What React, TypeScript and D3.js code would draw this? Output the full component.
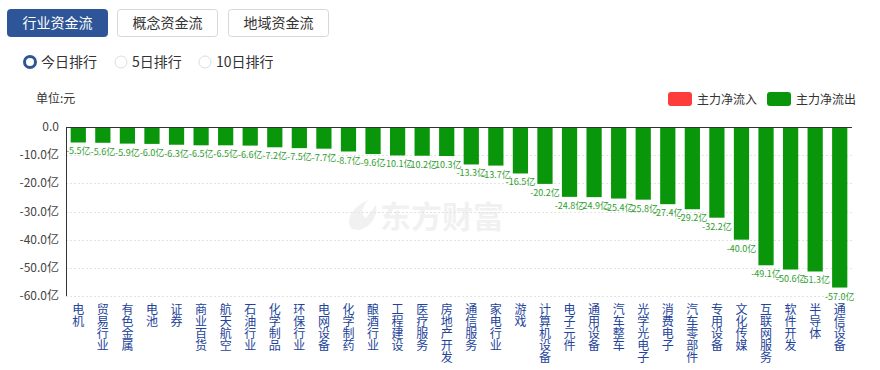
import React from "react";
import * as d3 from "d3";

const categories = ["电机","贸易行业","有色金属","电池","证券","商业百货","航天航空","石油行业","化学制品","环保行业","电网设备","化学制药","酿酒行业","工程建设","医疗服务","房地产开发","通信服务","家电行业","游戏","计算机设备","电子元件","通用设备","汽车整车","光学光电子","消费电子","汽车零部件","专用设备","文化传媒","互联网服务","软件开发","半导体","通信设备"];
const values = [-5.5,-5.6,-5.9,-6.0,-6.3,-6.5,-6.5,-6.6,-7.2,-7.5,-7.7,-8.7,-9.6,-10.1,-10.2,-10.3,-13.3,-13.7,-16.5,-20.2,-24.8,-24.9,-25.4,-25.8,-27.4,-29.2,-32.2,-40.0,-49.1,-50.6,-51.3,-57.0];
const yTicks = [0,-10,-20,-30,-40,-50,-60];
const tabs = ["行业资金流","概念资金流","地域资金流"];
const radios = ["今日排行","5日排行","10日排行"];
const legendItems = [{ name: "主力净流入", color: "#fd3c3c" }, { name: "主力净流出", color: "#0a960a" }];

const W = 880, H = 370;
const FONT = "'Noto Sans CJK SC', 'Microsoft YaHei', sans-serif";

export default function App() {
  const x = d3.scaleBand<string>().domain(categories).range([66, 852]).paddingInner(0.38).paddingOuter(0.19);
  const y = d3.scaleLinear().domain([0, -60]).range([127, 296]);
  const bw = x.bandwidth();
  const tabX = [7, 117, 228];
  const radioX = [30, 121, 205];
  return (
    <svg width={W} height={H} style={{ position: "absolute", left: 0, top: 0, fontFamily: FONT }}>
      <rect width={W} height={H} fill="#fff" />
      {/* tabs */}
      {tabs.map((t, i) => (
        <g key={t}>
          <rect x={tabX[i] + 0.5} y={9.5} width={100} height={27} rx={3}
            fill={i === 0 ? "#2e5597" : "#fff"} stroke={i === 0 ? "#2e5597" : "#d4d8de"} />
          <text x={tabX[i] + 50.5} y={28} textAnchor="middle" fontSize={14}
            fill={i === 0 ? "#fff" : "#333"}>{t}</text>
        </g>
      ))}
      {/* radios */}
      {radios.map((r, i) => (
        <g key={r}>
          {i === 0 ? (
            <circle cx={radioX[i]} cy={62} r={5.5} fill="#fff" stroke="#2e5597" strokeWidth={3} />
          ) : (
            <circle cx={radioX[i]} cy={62} r={6} fill="#fff" stroke="#d9dde3" strokeWidth={1} />
          )}
          <text x={radioX[i] + 11} y={67} fontSize={14} fill="#333">{r}</text>
        </g>
      ))}
      {/* unit label */}
      <text x={36} y={103} fontSize={12} fill="#333">单位:元</text>
      {/* legend */}
      {legendItems.map((l, i) => (
        <g key={l.name}>
          <rect x={668 + i * 99} y={92} width={24} height={14} rx={3} fill={l.color} />
          <text x={697 + i * 99} y={103.5} fontSize={12} fill="#333">{l.name}</text>
        </g>
      ))}
      {/* watermark */}
      <g opacity={0.05} fill="#000">
        <path d="M352,229 C345,222 350,208 368,200 C362,208 360,214 366,218 L376,205 C378,215 372,226 360,230 Z" />
        <text x={380} y={228} fontSize={31} fontWeight="bold">东方财富</text>
      </g>
      {/* grid */}
      {yTicks.map((t) => (
        <g key={t}>
          {t !== 0 && (
            <line x1={66} x2={852} y1={Math.round(y(t)) + 0.5} y2={Math.round(y(t)) + 0.5}
              stroke="#e3e3e3" strokeDasharray="2,2" />
          )}
          <text x={59} y={y(t) + 4} textAnchor="end" fontSize={12} fill="#444">
            {t === 0 ? "0.0" : `${t.toFixed(1)}亿`}
          </text>
        </g>
      ))}
      {/* bars */}
      {categories.map((c, i) => {
        const x0 = x(c)!;
        const v = values[i];
        return (
          <g key={c}>
            <rect x={x0} y={y(0)} width={bw} height={y(v) - y(0)} fill="#0a960a" />
            <text x={x0 + bw / 2} y={y(v) + 12} textAnchor="middle" fontSize={9} fill="#2e9e2e">
              {`${v.toFixed(1)}亿`}
            </text>
            <text x={x0 + bw / 2} y={303} fontSize={12} fill="#23439a"
              style={{ writingMode: "vertical-rl" as any }}>{c}</text>
          </g>
        );
      })}
      {/* axes */}
      <line x1={66} x2={852} y1={127.5} y2={127.5} stroke="#333" />
      <line x1={66.5} x2={66.5} y1={127} y2={296} stroke="#333" />
    </svg>
  );
}
